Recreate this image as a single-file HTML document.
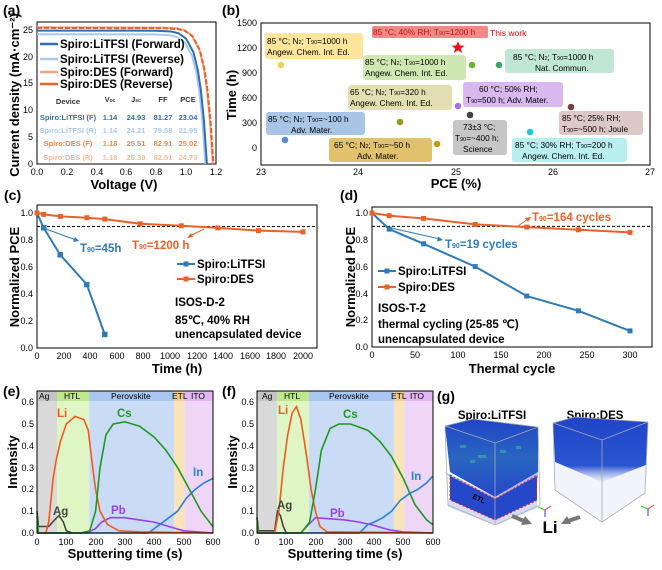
<!DOCTYPE html>
<html><head><meta charset="utf-8"><style>
html,body{margin:0;padding:0;background:#fff}
svg{display:block}
text{font-family:"Liberation Sans",Arial,sans-serif}
.t{font-size:9px}
.ax{font-size:13px;font-weight:bold}
.pl{font-size:14px;font-weight:bold}
.bx{font-size:8.3px}
.lg{font-size:11.5px;font-weight:bold}
.tb{font-size:7.5px;font-weight:bold}
</style></head><body>
<svg width="662" height="570" viewBox="0 0 662 570" xmlns="http://www.w3.org/2000/svg">
<defs>
<linearGradient id="cb1" x1="0" y1="0" x2="0" y2="1"><stop offset="0" stop-color="#1f44c8"/><stop offset="0.5" stop-color="#2a66c0"/><stop offset="1" stop-color="#2547c9"/></linearGradient>
<linearGradient id="cb2" x1="0" y1="0" x2="0" y2="1"><stop offset="0" stop-color="#1f44c8"/><stop offset="0.75" stop-color="#2a55d0"/><stop offset="1" stop-color="#c8d4f4" stop-opacity="0.4"/></linearGradient>
</defs>

<!-- ===== (a) ===== -->
<text x="3" y="15" class="pl">(a)</text>
<rect x="37" y="22" width="179" height="142" fill="none" stroke="#000" stroke-width="1"/>
<g class="t" text-anchor="end">
<text x="33" y="167">0</text><text x="33" y="140">5</text><text x="33" y="113">10</text><text x="33" y="86">15</text><text x="33" y="60">20</text><text x="33" y="33">25</text></g>
<g class="t" text-anchor="middle">
<text x="37" y="175">0.0</text><text x="67" y="175">0.2</text><text x="97" y="175">0.4</text><text x="126" y="175">0.6</text><text x="156" y="175">0.8</text><text x="186" y="175">1.0</text><text x="216" y="175">1.2</text></g>
<text x="124" y="189" class="ax" text-anchor="middle">Voltage (V)</text>
<text transform="translate(19,95) rotate(-90)" class="ax" text-anchor="middle">Current density (mA·cm⁻²)</text>
<g fill="none" stroke-width="2">
<polyline stroke="#a9c9ef" points="37,34.2 154.7,34.4 169.6,35.2 177.1,37 184.5,42.1 192,55.6 196.4,73.1 199.4,92.6 202.4,121.2 205.4,164"/>
<polyline stroke="#2f6eb5" points="37,30.6 156.2,30.7 171.1,31.5 178.6,33.3 186,38.5 193.5,52.4 197.9,70.5 200.9,90.5 203.9,119.9 206.9,164"/>
<polyline stroke="#f4a47f" points="37,27.3 162.1,27.6 177,28.4 184.5,30.3 191.9,35.6 199.4,49.9 203.8,68.3 206.8,88.8 209.8,118.9 212.8,164"/>
<polyline stroke="#e8622a" stroke-dasharray="5,2" points="37,27.9 162.7,28.2 177.6,29 185.1,30.9 192.5,36.2 200,50.4 204.4,68.7 207.4,89.1 210.4,119.1 213.4,164"/>
</g>
<g stroke-width="2.5"><line x1="40" y1="44" x2="58" y2="44" stroke="#2f6eb5"/><line x1="40" y1="59" x2="58" y2="59" stroke="#a9c9ef"/><line x1="40" y1="72" x2="58" y2="72" stroke="#f4a47f"/><line x1="40" y1="84" x2="58" y2="84" stroke="#e8622a"/></g>
<g class="lg" font-size="11px"><text x="60" y="48" fill="#000">Spiro:LiTFSI (Forward)</text><text x="60" y="63">Spiro:LiTFSI (Reverse)</text><text x="60" y="76">Spiro:DES (Forward)</text><text x="60" y="88">Spiro:DES (Reverse)</text></g>
<g class="tb" text-anchor="middle">
<text x="68" y="104" fill="#333">Device</text><text x="110" y="102" fill="#333">V<tspan font-size="5">oc</tspan></text><text x="136" y="102" fill="#333">J<tspan font-size="5">sc</tspan></text><text x="163" y="102" fill="#333">FF</text><text x="188" y="102" fill="#333">PCE</text>
<g fill="#2f6eb5"><text x="68" y="120">Spiro:LiTFSI (F)</text><text x="110" y="120">1.14</text><text x="136" y="120">24.93</text><text x="163" y="120">81.27</text><text x="188" y="120">23.04</text></g>
<g fill="#a9c9ef"><text x="68" y="133">Spiro:LiTFSI (R)</text><text x="110" y="133">1.14</text><text x="136" y="133">24.21</text><text x="163" y="133">79.58</text><text x="188" y="133">21.95</text></g>
<g fill="#ef8a4a"><text x="68" y="146">Spiro:DES (F)</text><text x="110" y="146">1.18</text><text x="136" y="146">25.51</text><text x="163" y="146">82.91</text><text x="188" y="146">25.02</text></g>
<g fill="#f6b898"><text x="68" y="160">Spiro:DES (R)</text><text x="110" y="160">1.18</text><text x="136" y="160">25.39</text><text x="163" y="160">82.51</text><text x="188" y="160">24.73</text></g>
</g>

<!-- ===== (b) ===== -->
<text x="222" y="15" class="pl">(b)</text>
<rect x="261" y="23" width="389" height="142" fill="none" stroke="#000"/>
<g class="t" text-anchor="end"><text x="257" y="26">1500</text><text x="257" y="51">1200</text><text x="257" y="76">900</text><text x="257" y="101">600</text><text x="257" y="126">300</text><text x="257" y="151">0</text></g>
<g class="t" text-anchor="middle"><text x="261" y="175">23</text><text x="358" y="175">24</text><text x="456" y="175">25</text><text x="553" y="175">26</text><text x="650" y="175">27</text></g>
<text x="456" y="188" class="ax" text-anchor="middle">PCE (%)</text>
<text transform="translate(236,95) rotate(-90)" class="ax" text-anchor="middle">Time (h)</text>
<g>
<rect x="372" y="26" width="116" height="12" rx="2" fill="#f08a86"/>
<rect x="265" y="33" width="98" height="26" rx="3" fill="#fde59b"/>
<rect x="363" y="55" width="103" height="25" rx="3" fill="#cfe8b2"/>
<rect x="505" y="49" width="109" height="24" rx="3" fill="#c0e6d4"/>
<rect x="348" y="85" width="104" height="25" rx="3" fill="#e3dfb2"/>
<rect x="463" y="82" width="100" height="25" rx="3" fill="#d8b8ef"/>
<rect x="266" y="112" width="99" height="23" rx="3" fill="#a9c5e6"/>
<rect x="329" y="138" width="103" height="24" rx="3" fill="#e0c16c"/>
<rect x="453" y="120" width="54" height="35" rx="3" fill="#c6c6c6"/>
<rect x="559" y="111" width="84" height="24" rx="3" fill="#dcc8c5"/>
<rect x="512" y="138" width="115" height="24" rx="3" fill="#b9efef"/>
</g>
<g class="bx">
<text x="373" y="35" fill="#c01010">85 °C; 40% RH; T<tspan font-size="5.5">90</tspan>=1200 h</text>
<text x="490" y="36" fill="#f00000" font-size="8.5px">This work</text>
<text x="267" y="44">85 °C; N<tspan font-size="5.5">2</tspan>; T<tspan font-size="5.5">90</tspan>=1000 h</text><text x="267" y="55">Angew. Chem. Int. Ed.</text>
<text x="365" y="65">85 °C; N<tspan font-size="5.5">2</tspan>; T<tspan font-size="5.5">90</tspan>=1000 h</text><text x="365" y="76">Angew. Chem. Int. Ed.</text>
<text x="513" y="60">85 °C; N<tspan font-size="5.5">2</tspan>; T<tspan font-size="5.5">90</tspan>=1000 h</text><text x="535" y="71">Nat. Commun.</text>
<text x="350" y="95">65 °C; N<tspan font-size="5.5">2</tspan>; T<tspan font-size="5.5">90</tspan>=320 h</text><text x="350" y="106">Angew. Chem. Int. Ed.</text>
<text x="479" y="92">60 °C; 50% RH;</text><text x="466" y="103">T<tspan font-size="5.5">90</tspan>=500 h; Adv. Mater.</text>
<text x="268" y="122">85 °C; N<tspan font-size="5.5">2</tspan>; T<tspan font-size="5.5">90</tspan>=~100 h</text><text x="291" y="133">Adv. Mater.</text>
<text x="334" y="148">65 °C; N<tspan font-size="5.5">2</tspan>; T<tspan font-size="5.5">90</tspan>=~50 h</text><text x="357" y="159">Adv. Mater.</text>
<text x="463" y="130">73±3 °C;</text><text x="455" y="141">T<tspan font-size="5.5">90</tspan>=~400 h;</text><text x="463" y="152">Science</text>
<text x="562" y="121">85 °C; 25% RH;</text><text x="562" y="132">T<tspan font-size="5.5">90</tspan>=~500 h; Joule</text>
<text x="515" y="148">85 °C; 30% RH; T<tspan font-size="5.5">90</tspan>=200 h</text><text x="522" y="159">Angew. Chem. Int. Ed.</text>
</g>
<polygon points="458,41 459.8,45.5 464.5,45.6 460.8,48.6 462.2,53 458,50.4 453.8,53 455.2,48.6 451.5,45.6 456.2,45.5" fill="#f01010"/>
<g stroke="none">
<circle cx="281" cy="65" r="3.3" fill="#f2d060"/>
<circle cx="472" cy="65" r="3.3" fill="#6ab82a"/>
<circle cx="499" cy="65" r="3.3" fill="#3aa66a"/>
<circle cx="400" cy="122" r="3.3" fill="#9a9a20"/>
<circle cx="458" cy="106" r="3.3" fill="#a870e0"/>
<circle cx="470" cy="115" r="3.3" fill="#444"/>
<circle cx="571" cy="107" r="3.3" fill="#7a4040"/>
<circle cx="285" cy="140" r="3.3" fill="#5b8ed0"/>
<circle cx="437" cy="144" r="3.3" fill="#c89a10"/>
<circle cx="530" cy="132" r="3.3" fill="#20c8d0"/>
</g>

<!-- ===== (c) ===== -->
<text x="4" y="200" class="pl">(c)</text>
<rect x="37" y="205" width="280" height="143" fill="none" stroke="#000"/>
<g class="t" text-anchor="end"><text x="33" y="351">0.0</text><text x="33" y="324">0.2</text><text x="33" y="297">0.4</text><text x="33" y="270">0.6</text><text x="33" y="243">0.8</text><text x="33" y="216">1.0</text></g>
<g class="t" text-anchor="middle"><text x="37" y="359">0</text><text x="64" y="359">200</text><text x="90" y="359">400</text><text x="117" y="359">600</text><text x="143" y="359">800</text><text x="170" y="359">1000</text><text x="197" y="359">1200</text><text x="223" y="359">1400</text><text x="250" y="359">1600</text><text x="276" y="359">1800</text><text x="303" y="359">2000</text></g>
<text x="177" y="373" class="ax" text-anchor="middle">Time (h)</text>
<text transform="translate(19,277) rotate(-90)" class="ax" text-anchor="middle">Normalized PCE</text>
<line x1="37" y1="226.5" x2="317" y2="226.5" stroke="#000" stroke-dasharray="3,2"/>
<polyline fill="none" stroke="#e8622a" stroke-width="2" points="37,213 43.7,214.4 60.3,216.4 86.9,217.7 104.8,219.1 140.1,223.8 181.3,225.8 217.9,227.9 258.4,230.6 303,231.9"/>
<polyline fill="none" stroke="#2f7ab8" stroke-width="2" points="37,213 43.7,227.9 60.3,254.9 86.9,284.6 104.8,334.5"/>
<g fill="#e8622a"><rect x="34.5" y="210.5" width="5" height="5"/><rect x="41.2" y="211.9" width="5" height="5"/><rect x="57.8" y="213.9" width="5" height="5"/><rect x="84.4" y="215.2" width="5" height="5"/><rect x="102.3" y="216.6" width="5" height="5"/><rect x="137.6" y="221.3" width="5" height="5"/><rect x="178.8" y="223.3" width="5" height="5"/><rect x="215.4" y="225.4" width="5" height="5"/><rect x="255.9" y="228.1" width="5" height="5"/><rect x="300.5" y="229.4" width="5" height="5"/></g>
<g fill="#2f7ab8"><rect x="41" y="225" width="5.5" height="5.5"/><rect x="57.5" y="252" width="5.5" height="5.5"/><rect x="84" y="281.8" width="5.5" height="5.5"/><rect x="102" y="331.7" width="5.5" height="5.5"/></g>
<line x1="46" y1="229" x2="76" y2="240" stroke="#2f7ab8" stroke-width="1"/><polygon points="79,241 73,242 75,237" fill="#2f7ab8"/>
<text x="80" y="252" class="lg" fill="#2f7ab8" font-size="12px">T<tspan font-size="7">90</tspan>=45h</text>
<line x1="204" y1="229" x2="190" y2="236" stroke="#e8622a" stroke-width="1"/><polygon points="187,238 191,233 193,237" fill="#e8622a"/>
<text x="132" y="249" class="lg" fill="#e8622a" font-size="12px">T<tspan font-size="7">90</tspan>=1200 h</text>
<line x1="177" y1="264" x2="195" y2="264" stroke="#2f7ab8" stroke-width="2"/><rect x="183.5" y="261.5" width="5" height="5" fill="#2f7ab8"/>
<line x1="177" y1="279" x2="195" y2="279" stroke="#e8622a" stroke-width="2"/><rect x="183.5" y="276.5" width="5" height="5" fill="#e8622a"/>
<text x="197" y="268" class="lg">Spiro:LiTFSI</text><text x="197" y="283" class="lg">Spiro:DES</text>
<text x="175" y="306" class="lg">ISOS-D-2</text><text x="175" y="324" class="lg">85℃, 40% RH</text><text x="175" y="338" class="lg">unencapsulated device</text>

<!-- ===== (d) ===== -->
<text x="340" y="200" class="pl">(d)</text>
<rect x="372" y="207" width="280" height="140" fill="none" stroke="#000"/>
<g class="t" text-anchor="end"><text x="368" y="350">0.0</text><text x="368" y="323">0.2</text><text x="368" y="297">0.4</text><text x="368" y="270">0.6</text><text x="368" y="243">0.8</text><text x="368" y="216">1.0</text></g>
<g class="t" text-anchor="middle"><text x="372" y="358">0</text><text x="415" y="358">50</text><text x="458" y="358">100</text><text x="501" y="358">150</text><text x="544" y="358">200</text><text x="587" y="358">250</text><text x="630" y="358">300</text></g>
<text x="512" y="373" class="ax" text-anchor="middle">Thermal cycle</text>
<text transform="translate(355,277) rotate(-90)" class="ax" text-anchor="middle">Normalized PCE</text>
<line x1="372" y1="226.4" x2="652" y2="226.4" stroke="#000" stroke-dasharray="3,2"/>
<polyline fill="none" stroke="#e8622a" stroke-width="2" points="372,213 389.2,215.7 423.6,218.4 475.2,224.4 526.8,227.1 578.4,229.8 630,232.4"/>
<polyline fill="none" stroke="#2f7ab8" stroke-width="2" points="372,213 389.2,229.1 423.6,243.8 475.2,266.6 526.8,296.1 578.4,310.8 630,330.9"/>
<g fill="#e8622a"><rect x="369.5" y="210.5" width="5" height="5"/><rect x="386.7" y="213.2" width="5" height="5"/><rect x="421.1" y="215.9" width="5" height="5"/><rect x="472.7" y="221.9" width="5" height="5"/><rect x="524.3" y="224.6" width="5" height="5"/><rect x="575.9" y="227.3" width="5" height="5"/><rect x="627.5" y="229.9" width="5" height="5"/></g>
<g fill="#2f7ab8"><rect x="386.7" y="226.6" width="5" height="5"/><rect x="421.1" y="241.3" width="5" height="5"/><rect x="472.7" y="264.1" width="5" height="5"/><rect x="524.3" y="293.6" width="5" height="5"/><rect x="575.9" y="308.3" width="5" height="5"/><rect x="627.5" y="328.4" width="5" height="5"/></g>
<line x1="391" y1="228" x2="440" y2="239" stroke="#2f7ab8" stroke-width="1"/><polygon points="443,240 437,241.5 438,236.5" fill="#2f7ab8"/>
<text x="445" y="248" class="lg" fill="#2f7ab8" font-size="12px">T<tspan font-size="7">90</tspan>=19 cycles</text>
<line x1="518" y1="226" x2="528" y2="219" stroke="#e8622a" stroke-width="1"/><polygon points="531,217 528,222 525,218" fill="#e8622a"/>
<text x="532" y="221" class="lg" fill="#e8622a" font-size="12px">T<tspan font-size="7">90</tspan>=164 cycles</text>
<line x1="378" y1="271" x2="396" y2="271" stroke="#2f7ab8" stroke-width="2"/><rect x="384.5" y="268.5" width="5" height="5" fill="#2f7ab8"/>
<line x1="378" y1="287" x2="396" y2="287" stroke="#e8622a" stroke-width="2"/><rect x="384.5" y="284.5" width="5" height="5" fill="#e8622a"/>
<text x="398" y="275" class="lg">Spiro:LiTFSI</text><text x="398" y="291" class="lg">Spiro:DES</text>
<text x="378" y="312" class="lg">ISOS-T-2</text><text x="378" y="328" class="lg">thermal cycling (25-85 ℃)</text><text x="378" y="343" class="lg">unencapsulated device</text>

<!-- ===== (e) ===== -->
<text x="3" y="396" class="pl">(e)</text>
<g>
<rect x="37" y="391" width="20" height="142" fill="#d9d9d9"/>
<rect x="57" y="391" width="32.2" height="142" fill="#e0f5c4"/>
<rect x="89.2" y="391" width="84.9" height="142" fill="#cadcf5"/>
<rect x="174.1" y="391" width="10.3" height="142" fill="#f8e3ba"/>
<rect x="184.4" y="391" width="28.6" height="142" fill="#efd6f6"/>
<rect x="37" y="391" width="20" height="10" fill="#c4c4c4"/>
<rect x="57" y="391" width="32.2" height="10" fill="#bfe88e"/>
<rect x="89.2" y="391" width="84.9" height="10" fill="#a9c7f0"/>
<rect x="174.1" y="391" width="10.3" height="10" fill="#f2cf8e"/>
<rect x="184.4" y="391" width="28.6" height="10" fill="#e2b8f2"/>
</g>
<g font-size="8.5px"><text x="39" y="399">Ag</text><text x="64" y="399">HTL</text><text x="111" y="399">Perovskite</text><text x="172" y="399">ETL</text><text x="191" y="399">ITO</text></g>
<g fill="none" stroke-width="1.6">
<polyline stroke="#9b3ff0" points="37,533 86.8,533 95.6,528.6 101.5,522.1 110.3,517.7 124.9,517.7 139.6,519.9 154.2,522.1 168.9,526.5 183.5,530.8 212.8,533"/>
<polyline stroke="#2a7fe0" points="37,533 148.3,533 160.1,524.3 168.9,517.7 177.6,511.2 186.4,498.1 195.2,489.4 204,482.9 212.8,478.5"/>
<polyline stroke="#444" points="37,511.2 38.5,526.5 48.7,526.5 54.6,519.9 59,515.6 63.4,522.1 66.3,530.8 72.2,533"/>
<polyline stroke="#f05a1e" points="37,533 45.8,533 48.7,522.1 53.1,478.5 56,461.1 60.4,441.4 66.3,424 75.1,416.4 83.9,419.6 88.3,430.5 92.7,467.6 95.6,489.4 100,511.2 107.3,524.3 119,530.8 139.6,531.9 212.8,533"/>
<polyline stroke="#1f9a1f" points="37,515.6 38.5,533 81,533 89.7,530.8 95.6,511.2 100,467.6 105.9,434.9 113.2,424 124.9,421.8 139.6,426.2 154.2,437.1 165.9,450.2 177.6,467.6 189.4,489.4 201.1,511.2 212.8,526.5"/>
</g>
<rect x="37" y="391" width="176" height="142" fill="none" stroke="#000"/>
<g class="t" text-anchor="end"><text x="34" y="536">0.0</text><text x="34" y="514">0.1</text><text x="34" y="492">0.2</text><text x="34" y="471">0.3</text><text x="34" y="449">0.4</text><text x="34" y="427">0.5</text><text x="34" y="405">0.6</text></g>
<g class="t" text-anchor="middle"><text x="37" y="545">0</text><text x="66" y="545">100</text><text x="96" y="545">200</text><text x="125" y="545">300</text><text x="154" y="545">400</text><text x="184" y="545">500</text><text x="213" y="545">600</text></g>
<text x="125" y="558" class="ax" text-anchor="middle">Sputtering time (s)</text>
<text transform="translate(17,462) rotate(-90)" class="ax" text-anchor="middle">Intensity</text>
<g class="lg" font-size="12.5px"><text x="57" y="417" fill="#f05a1e">Li</text><text x="117" y="417" fill="#1f9a1f">Cs</text><text x="111" y="514" fill="#9b3ff0">Pb</text><text x="193" y="476" fill="#2a7fe0">In</text><text x="53" y="515" fill="#444">Ag</text></g>

<!-- ===== (f) ===== -->
<text x="222" y="396" class="pl">(f)</text>
<g>
<rect x="257" y="391" width="20" height="142" fill="#d9d9d9"/>
<rect x="277" y="391" width="32.1" height="142" fill="#e0f5c4"/>
<rect x="309.1" y="391" width="84.8" height="142" fill="#cadcf5"/>
<rect x="393.9" y="391" width="10.2" height="142" fill="#f8e3ba"/>
<rect x="404.1" y="391" width="28.4" height="142" fill="#efd6f6"/>
<rect x="257" y="391" width="20" height="10" fill="#c4c4c4"/>
<rect x="277" y="391" width="32.1" height="10" fill="#bfe88e"/>
<rect x="309.1" y="391" width="84.8" height="10" fill="#a9c7f0"/>
<rect x="393.9" y="391" width="10.2" height="10" fill="#f2cf8e"/>
<rect x="404.1" y="391" width="28.4" height="10" fill="#e2b8f2"/>
</g>
<g font-size="8.5px"><text x="262" y="399">Ag</text><text x="284" y="399">HTL</text><text x="329" y="399">Perovskite</text><text x="391" y="399">ETL</text><text x="410" y="399">ITO</text></g>
<g fill="none" stroke-width="1.6">
<polyline stroke="#9b3ff0" points="257,533 300.9,533 306.7,526.5 315.5,517.7 330.1,518.8 344.8,519.9 359.4,522.1 374,525.4 388.6,529.7 403.3,531.9 432.5,533"/>
<polyline stroke="#2a7fe0" points="257,533 359.4,533 368.2,524.3 374,522.1 382.8,517.7 391.6,511.2 400.3,500.3 409.1,493.8 417.9,489.4 426.6,482.9 432.5,476.3"/>
<polyline stroke="#444" points="257,517.7 258.5,530.8 274.6,530.8 277.5,511.2 280.4,515.6 283.3,526.5 286.3,533"/>
<polyline stroke="#f05a1e" points="257,533 274.6,533 278.9,511.2 283.3,467.6 287.7,434.9 292.1,413.1 296.5,406.6 300.9,419.6 306.7,456.7 311.1,489.4 315.5,511.2 319.9,526.5 327.2,531.9 432.5,533"/>
<polyline stroke="#1f9a1f" points="257,517.7 258.5,533 300.9,533 309.6,522.1 315.5,489.4 321.4,450.2 330.1,428.4 338.9,424 350.6,424 368.2,430.5 379.9,441.4 391.6,456.7 403.3,478.5 415,504.7 426.6,519.9 432.5,524.3"/>
</g>
<rect x="257" y="391" width="176" height="142" fill="none" stroke="#000"/>
<g class="t" text-anchor="end"><text x="254" y="536">0.0</text><text x="254" y="514">0.1</text><text x="254" y="492">0.2</text><text x="254" y="471">0.3</text><text x="254" y="449">0.4</text><text x="254" y="427">0.5</text><text x="254" y="405">0.6</text></g>
<g class="t" text-anchor="middle"><text x="257" y="545">0</text><text x="286" y="545">100</text><text x="316" y="545">200</text><text x="345" y="545">300</text><text x="374" y="545">400</text><text x="403" y="545">500</text><text x="433" y="545">600</text></g>
<text x="345" y="558" class="ax" text-anchor="middle">Sputtering time (s)</text>
<text transform="translate(237,462) rotate(-90)" class="ax" text-anchor="middle">Intensity</text>
<g class="lg" font-size="12.5px"><text x="278" y="414" fill="#f05a1e">Li</text><text x="343" y="418" fill="#1f9a1f">Cs</text><text x="330" y="517" fill="#9b3ff0">Pb</text><text x="411" y="480" fill="#2a7fe0">In</text><text x="277" y="509" fill="#444">Ag</text></g>

<!-- ===== (g) ===== -->
<text x="437" y="401" class="pl">(g)</text>
<text x="492" y="419" class="lg" text-anchor="middle" font-size="12px">Spiro:LiTFSI</text>
<text x="595" y="419" class="lg" text-anchor="middle" font-size="12px">Spiro:DES</text>
<polygon points="445,426 473,419 538,427 538,472 495,497 450,472" fill="url(#cb1)"/>
<polygon points="445,472 495,497 538,472 538,478 495,500 450,478" fill="#8ea4e6" opacity="0.7"/>
<polygon points="450,476 495,499 537,476 537,500 495,520 450,500" fill="#2547c9"/>
<polygon points="448,500 495,520 537,500 537,508 495,525 448,507" fill="#b9c6f0" opacity="0.6"/>
<g fill="#3ac8a0" opacity="0.5"><rect x="460" y="445" width="6" height="3"/><rect x="478" y="455" width="8" height="3"/><rect x="500" y="450" width="6" height="3"/><rect x="516" y="446" width="5" height="3"/><rect x="470" y="460" width="5" height="3"/></g>
<g fill="none" stroke="#aaa" stroke-width="0.8"><polyline points="445,426 473,419 538,427 495,443 445,426 448,505 495,525 540,505 538,427"/><line x1="495" y1="443" x2="495" y2="525"/></g>
<polyline points="450,475 495,499 537,475 536,501 495,520 450,500 450,475" fill="none" stroke="#f02020" stroke-width="1" stroke-dasharray="2,2"/>
<text x="472" y="498" font-size="7px" font-weight="bold" transform="rotate(25,472,498)">ETL</text>
<polygon points="553,423 575,417 648,422 646,465 602,482 555,462" fill="url(#cb2)"/>
<polygon points="555,462 602,482 646,465 645,492 602,520 555,490" fill="#e8edfa" opacity="0.6"/>
<g fill="none" stroke="#aaa" stroke-width="0.8"><polyline points="553,423 575,417 648,422 602,440 553,423 555,490 602,522 645,493 648,422"/><line x1="602" y1="440" x2="602" y2="522"/></g>
<line x1="512" y1="516" x2="524" y2="521" stroke="#777" stroke-width="4"/><polygon points="532,524 521,525 525,516" fill="#777"/>
<line x1="580" y1="517" x2="568" y2="521" stroke="#777" stroke-width="4"/><polygon points="561,524 567,516 571,524" fill="#777"/>
<text x="550" y="533" text-anchor="middle" font-size="17px" font-weight="bold">Li</text>
<g stroke-width="1"><line x1="545" y1="510" x2="538" y2="507" stroke="#2c2"/><line x1="545" y1="510" x2="551" y2="506" stroke="#e33"/><line x1="545" y1="510" x2="545" y2="517" stroke="#33c"/></g>
<g stroke-width="1"><line x1="648" y1="509" x2="641" y2="506" stroke="#2c2"/><line x1="648" y1="509" x2="654" y2="505" stroke="#e33"/><line x1="648" y1="509" x2="648" y2="516" stroke="#33c"/></g>
</svg>
</body></html>
